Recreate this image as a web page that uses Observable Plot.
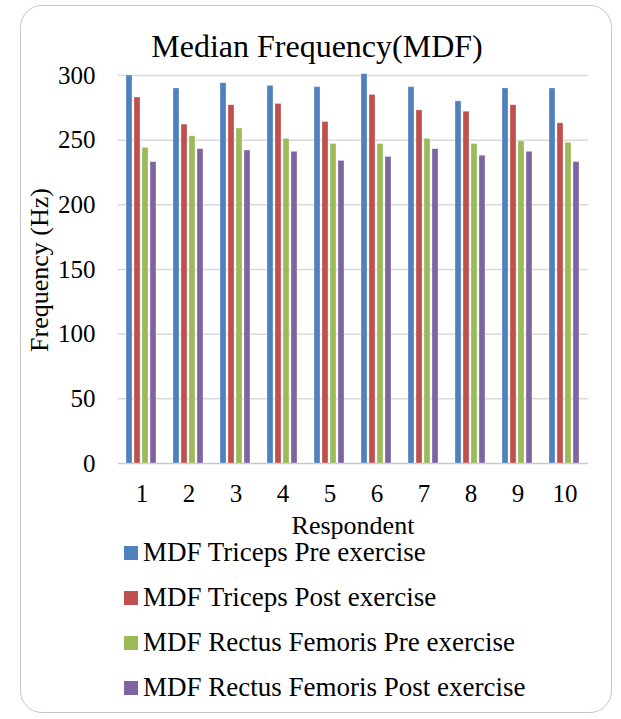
<!DOCTYPE html>
<html>
<head>
<meta charset="utf-8">
<script src="https://cdn.jsdelivr.net/npm/d3@7"></script>
<script src="https://cdn.jsdelivr.net/npm/@observablehq/plot@0.6"></script>
<style>
  html, body { margin: 0; padding: 0; background: #fff; }
  #wrap { position: relative; width: 621px; height: 719px; overflow: hidden; font-family: "Liberation Serif", "Times New Roman", serif; color: #000; }
  #frame { position: absolute; left: 20px; top: 5px; width: 592px; height: 708px; border: 1.5px solid #c6c6c6; border-radius: 22px; box-sizing: border-box; }
  #title { position: absolute; left: 0; width: 634px; top: 28px; text-align: center; font-size: 32px; line-height: 36px; white-space: nowrap; }
  #chart { position: absolute; left: 0; top: 0; }
  #chart svg, #chart svg text { font-family: "Liberation Serif", "Times New Roman", serif !important; }
  #ylabel { position: absolute; left: 40px; top: 270px; transform: translate(-50%, -50%) rotate(-90deg); font-size: 26px; line-height: 0.8; white-space: nowrap; }
  #xlabel { position: absolute; left: 353px; top: 526px; transform: translate(-50%, -50%); font-size: 26px; line-height: 0.7; white-space: nowrap; }
  #legend { position: absolute; left: 124px; top: 530px; }
  .item { display: flex; align-items: center; height: 45px; font-size: 27px; line-height: 0.7; white-space: nowrap; }
  .sw { width: 14px; height: 14px; margin-right: 5px; flex: none; }
</style>
</head>
<body>
<div id="wrap">
  <div id="frame"></div>
  <div id="chart"></div>
  <div id="title">Median Frequency(MDF)</div>
  <div id="ylabel">Frequency (Hz)</div>
  <div id="xlabel">Respondent</div>
  <div id="legend"></div>
</div>
<script>
const respondents = [1, 2, 3, 4, 5, 6, 7, 8, 9, 10];
const seriesNames = [
  "MDF Triceps Pre exercise",
  "MDF Triceps Post exercise",
  "MDF Rectus Femoris Pre exercise",
  "MDF Rectus Femoris Post exercise"
];
const colors = ["#4F81BD", "#C0504D", "#9BBB59", "#8064A2"];
const tricepsPre = [300, 290, 294, 292, 291, 301, 291, 280, 290, 290];
const tricepsPost = [283, 262, 277, 278, 264, 285, 273, 272, 277, 263];
const rectusPre = [244, 253, 259, 251, 247, 247, 251, 247, 249, 248];
const rectusPost = [233, 243, 242, 241, 234, 237, 243, 238, 241, 233];
const yTicks = [0, 50, 100, 150, 200, 250, 300];

const seriesValues = [tricepsPre, tricepsPost, rectusPre, rectusPost];
const data = respondents.flatMap((r, i) =>
  seriesNames.map((s, j) => ({ respondent: r, series: s, value: seriesValues[j][i] }))
);

const chart = Plot.plot({
  width: 621,
  height: 540,
  marginLeft: 116,
  marginRight: 32,
  marginTop: 75,
  marginBottom: 77,
  style: { fontFamily: "'Liberation Serif', serif", fontSize: "25px", color: "#000", background: "transparent", overflow: "visible" },
  fx: { domain: respondents, padding: 0, label: null, axis: "bottom", tickSize: 0, tickPadding: 21 },
  x: { domain: seriesNames, axis: null, paddingInner: 0.2, paddingOuter: 0.8 },
  y: { domain: [0, 300], ticks: yTicks, tickSize: 0, tickPadding: 23, label: null },
  color: { domain: seriesNames, range: colors },
  marks: [
    Plot.ruleY(yTicks.filter(d => d > 0), { stroke: "#d9d9d9", strokeWidth: 1.5 }),
    Plot.ruleY([0], { stroke: "#c8c8c8", strokeWidth: 1.5 }),
    Plot.barY(data, { fx: "respondent", x: "series", y: "value", fill: "series", stroke: "#ffffff", strokeOpacity: 0.5, strokeWidth: 0.6 })
  ]
});
document.getElementById("chart").appendChild(chart);

const legend = document.getElementById("legend");
seriesNames.forEach((s, i) => {
  const item = document.createElement("div");
  item.className = "item";
  const sw = document.createElement("div");
  sw.className = "sw";
  sw.style.background = colors[i];
  const t = document.createElement("span");
  t.textContent = s;
  item.appendChild(sw);
  item.appendChild(t);
  legend.appendChild(item);
});
</script>
</body>
</html>
